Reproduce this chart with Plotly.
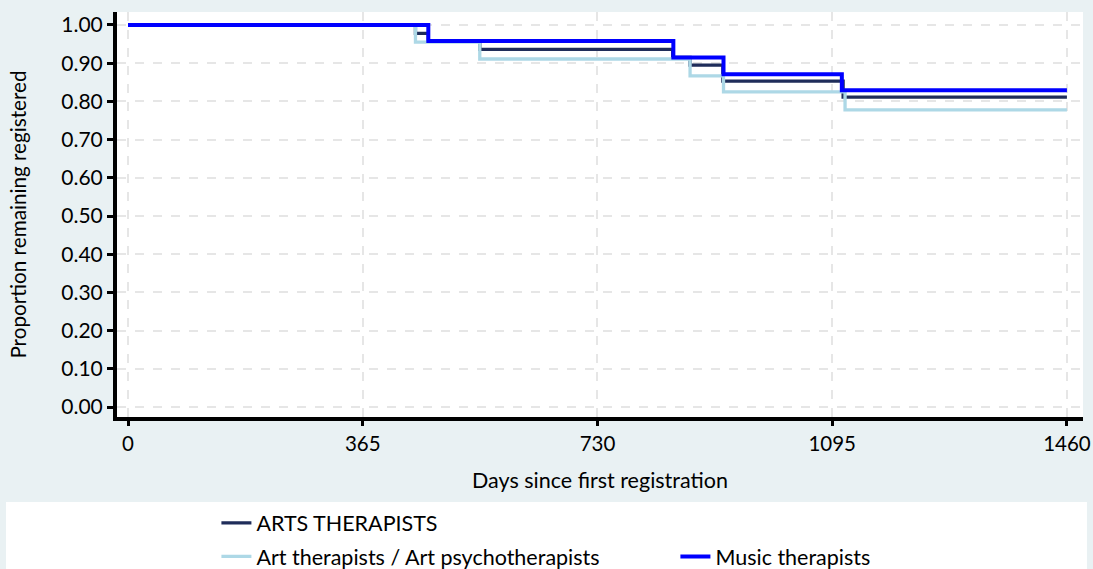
import plotly.graph_objects as go

# ---- data ----
arts_days = [0, 447, 467, 547, 847, 874, 925, 1112, 1460]
arts_surv = [1.0, 0.978, 0.957, 0.936, 0.915, 0.895, 0.853, 0.811, 0.811]

art_days = [0, 447, 547, 874, 926, 1115, 1460]
art_surv = [1.0, 0.955, 0.911, 0.867, 0.825, 0.778, 0.778]

music_days = [0, 467, 848, 926, 1110, 1460]
music_surv = [1.0, 0.958, 0.915, 0.871, 0.829, 0.829]

x_ticks = [0, 365, 730, 1095, 1460]
y_ticks = [0.0, 0.1, 0.2, 0.3, 0.4, 0.5, 0.6, 0.7, 0.8, 0.9, 1.0]

FONT = "Lato"
BG = "#e9f1f3"

fig = go.Figure()
fig.add_trace(go.Scatter(x=arts_days, y=arts_surv, mode="lines", line_shape="hv",
                         line=dict(color="#1f2d5a", width=3.3), name="ARTS THERAPISTS",
                         legend="legend"))
fig.add_trace(go.Scatter(x=art_days, y=art_surv, mode="lines", line_shape="hv",
                         line=dict(color="#add8e6", width=3.3),
                         name="Art therapists / Art psychotherapists", legend="legend2"))
fig.add_trace(go.Scatter(x=music_days, y=music_surv, mode="lines", line_shape="hv",
                         line=dict(color="#0000ff", width=4), name="Music therapists",
                         legend="legend2"))

fig.update_layout(
    width=1093, height=569,
    paper_bgcolor=BG, plot_bgcolor="white",
    margin=dict(l=117, r=10, t=12, b=152, autoexpand=False),
    font=dict(family=FONT, size=21, color="black"),
    showlegend=True,
    legend=dict(xref="container", yref="container", x=0.198, y=0.081,
                xanchor="left", yanchor="middle",
                bgcolor="rgba(0,0,0,0)", font=dict(size=21.5), orientation="h"),
    legend2=dict(xref="container", yref="container", x=0.198, y=0.022,
                 xanchor="left", yanchor="middle",
                 bgcolor="rgba(0,0,0,0)", font=dict(size=21.5), orientation="h",
                 entrywidth=414, entrywidthmode="pixels"),
    shapes=[dict(type="rect", xref="paper", yref="paper",
                 x0=-0.1149, x1=1.0041, y0=-0.2099, y1=-0.40,
                 fillcolor="white", line=dict(width=0), layer="below")],
)

fig.update_xaxes(
    range=[-17.1, 1485], tickvals=x_ticks, ticktext=[str(v) for v in x_ticks],
    showline=True, linecolor="black", linewidth=4, mirror=False,
    ticks="outside", ticklen=5, tickwidth=3, tickcolor="black",
    showgrid=True, gridcolor="#e6e6e6", griddash="dash", gridwidth=2,
    zeroline=False, automargin=False, tickfont=dict(size=20.5),
    title=dict(text="Days since first registration", standoff=20, font=dict(size=21.5)),
)
fig.update_yaxes(
    range=[-0.026, 1.034], tickvals=y_ticks, tickformat=".2f",
    showline=True, linecolor="black", linewidth=4,
    ticks="outside", ticklen=6, tickwidth=3, tickcolor="black",
    showgrid=True, gridcolor="#e6e6e6", griddash="dash", gridwidth=2,
    zeroline=False, automargin=False, tickfont=dict(size=21),
    title=dict(text="Proportion remaining registered", standoff=30, font=dict(size=20.7)),
)

fig.write_html("out.html", config={"displayModeBar": False},
               post_script="document.body.style.margin='0px';document.body.style.overflow='hidden';")
